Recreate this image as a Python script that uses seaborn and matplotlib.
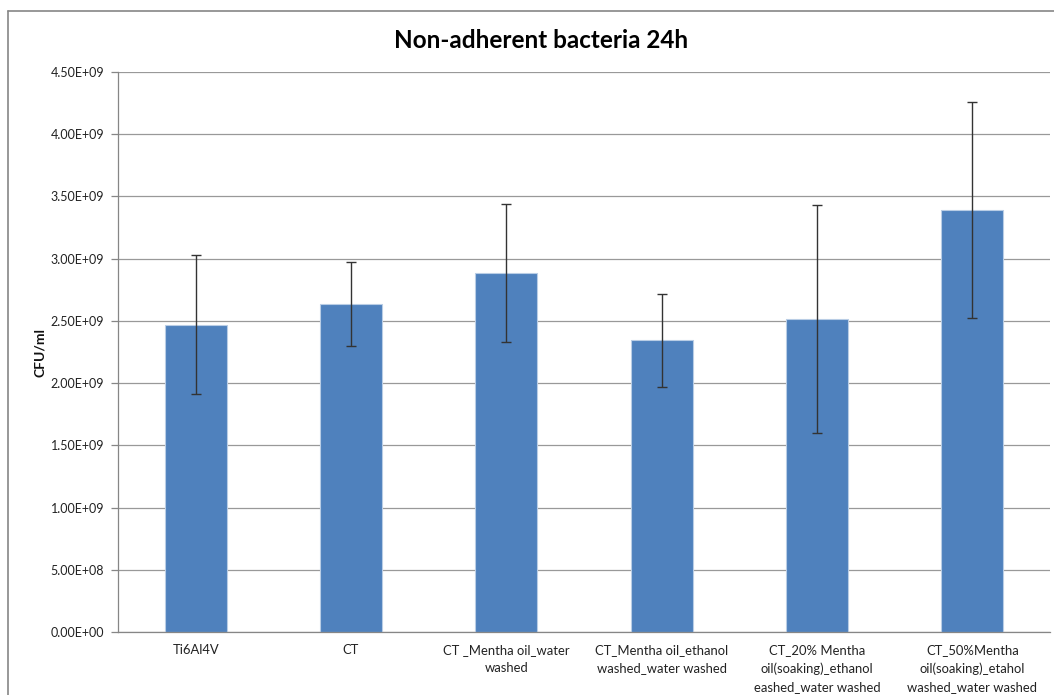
import matplotlib
matplotlib.use("Agg")
import matplotlib.pyplot as plt
import seaborn as sns
import numpy as np
import pandas as pd
from matplotlib.lines import Line2D
from matplotlib.ticker import MultipleLocator, FuncFormatter

categories = [
    "Ti6Al4V",
    "CT",
    "CT _Mentha oil_water\nwashed",
    "CT_Mentha oil_ethanol\nwashed_water washed",
    "CT_20% Mentha\noil(soaking)_ethanol\neashed_water washed",
    "CT_50%Mentha\noil(soaking)_etahol\nwashed_water washed",
]
values = [2.47e9, 2.635e9, 2.885e9, 2.345e9, 2.515e9, 3.39e9]
errors = [0.56e9, 0.34e9, 0.555e9, 0.375e9, 0.915e9, 0.865e9]

sns.set_theme(style="white")
plt.rcParams['font.family'] = ['Lato', 'DejaVu Sans']

fig = plt.figure(figsize=(10.54, 6.95), dpi=100)
ax = fig.add_axes([118/1054, 1-632/695, (1050-118)/1054, (632-72)/695])

df = pd.DataFrame({"cat": categories, "val": values})
sns.barplot(data=df, x="cat", y="val", color="#4f81bd", saturation=1, width=0.4,
            edgecolor="#b9cde5", linewidth=0.8, ax=ax, zorder=2)
ax.errorbar(np.arange(len(categories)), values, yerr=errors, fmt="none",
            ecolor="#333333", elinewidth=1.0, capsize=3.5, capthick=1.0, zorder=3)

ax.set_ylim(0, 4.5e9)
ax.set_xlim(-0.5, len(categories) - 0.5)
ax.yaxis.set_major_locator(MultipleLocator(5e8))

def fmt(v, pos):
    m, e = f"{v:.2E}".split("E")
    return f"{m}E{'+' if int(e) >= 0 else '-'}{abs(int(e)):02d}"
ax.yaxis.set_major_formatter(FuncFormatter(fmt))

ax.grid(axis="y", color="#999999", linewidth=0.9, zorder=0)
ax.set_axisbelow(True)
for s in ["top", "right"]:
    ax.spines[s].set_visible(False)
ax.spines["left"].set_color("#868686")
ax.spines["bottom"].set_color("#868686")
ax.spines["left"].set_linewidth(0.9)
ax.spines["bottom"].set_linewidth(0.9)

ax.tick_params(axis="y", which="major", length=5, width=0.9, color="#868686",
               labelsize=9, labelcolor="#222222", pad=5, left=True)
ax.tick_params(axis="x", length=0, labelsize=9.4, labelcolor="#222222", pad=9)
for t in ax.get_xticklabels():
    t.set_linespacing(1.6)

ax.set_xlabel("")
ax.set_ylabel("CFU/ml", fontsize=10, fontweight="bold", labelpad=3, color="#111111")

fig.text(541/1054, 1-41/695, "Non-adherent bacteria 24h", ha="center", va="center",
         fontsize=17.5, fontweight="bold", color="#000000")

# chart area border (left and top edges visible)
fig.add_artist(Line2D([8/1054, 8/1054], [0, 1-11/695], transform=fig.transFigure,
                      color="#868686", linewidth=1.2))
fig.add_artist(Line2D([8/1054, 1], [1-11/695, 1-11/695], transform=fig.transFigure,
                      color="#868686", linewidth=1.2))

fig.savefig("out.png", dpi=100)
